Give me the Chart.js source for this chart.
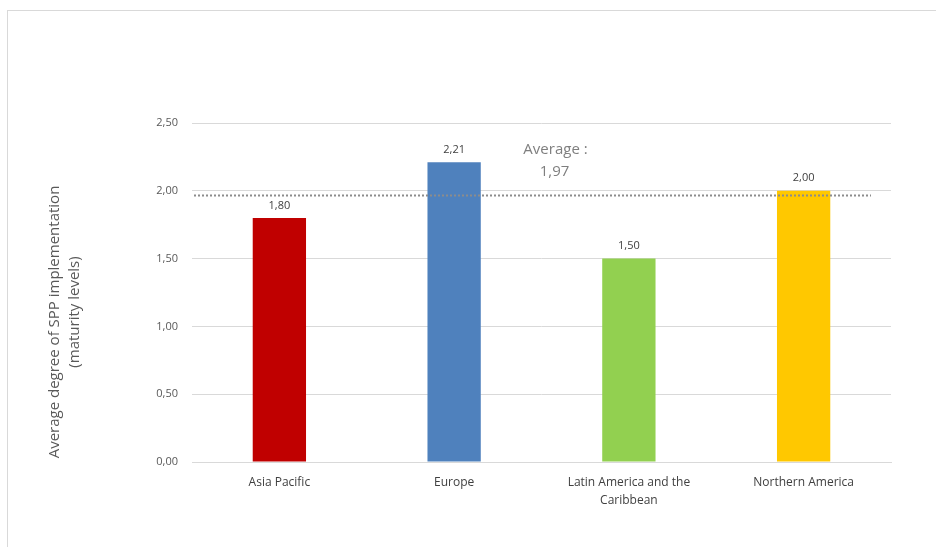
<!DOCTYPE html>
<html>
<head>
<meta charset="utf-8">
<script src="https://cdn.jsdelivr.net/npm/chart.js@4.4.1/dist/chart.umd.min.js"></script>
<style>
  html, body { margin: 0; padding: 0; background: #ffffff; }
  #wrap { width: 936px; height: 547px; position: relative; }
</style>
</head>
<body>
<div id="wrap"><canvas id="c" width="936" height="547"></canvas></div>
<script>
// Regional maturity of SPP implementation
const regions = [["Asia Pacific"], ["Europe"], ["Latin America and the", "Caribbean"], ["Northern America"]];
const maturity = [1.80, 2.21, 1.50, 2.00];
const barColors = ["#c00000", "#4f81bd", "#92d050", "#ffc800"];
const averageValue = 1.97;
const yTicks = [0, 0.5, 1.0, 1.5, 2.0, 2.5];
const yTitleLines = ["Average degree of SPP implementation", "(maturity levels)"];
const averageLines = ["Average :", "1,97"];

const FONT = "'Open Sans', 'Noto Sans', sans-serif";
const fmt = v => v.toFixed(2).replace(".", ",");

// Light frame around the chart panel
const framePlugin = {
  id: "frame",
  beforeDraw(chart) {
    const ctx = chart.ctx;
    ctx.save();
    ctx.fillStyle = "#ffffff";
    ctx.fillRect(0, 0, chart.width, chart.height);
    ctx.strokeStyle = "#d9d9d9";
    ctx.lineWidth = 1;
    ctx.strokeRect(7.5, 10.5, chart.width + 20, chart.height + 20);
    ctx.restore();
  }
};

// Dotted average line plus its caption
const averagePlugin = {
  id: "averageLine",
  afterDatasetsDraw(chart) {
    const { ctx, chartArea, scales } = chart;
    const y = Math.round(scales.y.getPixelForValue(averageValue)) + 0.5;
    ctx.save();
    ctx.strokeStyle = "#8c8c8c";
    ctx.lineWidth = 2;
    ctx.setLineDash([2, 2]);
    ctx.beginPath();
    ctx.moveTo(chartArea.left + 2, y);
    ctx.lineTo(chartArea.right - 20, y);
    ctx.stroke();
    ctx.setLineDash([]);
    ctx.fillStyle = "#7f7f7f";
    ctx.font = "15px " + FONT;
    ctx.textAlign = "center";
    ctx.textBaseline = "middle";
    const cx = (scales.x.getPixelForValue(1) + scales.x.getPixelForValue(2)) / 2 + 14;
    ctx.fillText(averageLines[0], cx, 150);
    ctx.fillText(averageLines[1], cx - 1, 172);
    ctx.restore();
  }
};

// Value labels above each bar
const valueLabelPlugin = {
  id: "valueLabels",
  afterDatasetsDraw(chart) {
    const ctx = chart.ctx;
    const meta = chart.getDatasetMeta(0);
    ctx.save();
    ctx.fillStyle = "#404040";
    ctx.font = "11px " + FONT;
    ctx.textAlign = "center";
    ctx.textBaseline = "bottom";
    meta.data.forEach((bar, i) => {
      ctx.fillText(fmt(maturity[i]), bar.x, bar.y - 7);
    });
    ctx.restore();
  }
};

// Rotated two-line axis title
const yTitlePlugin = {
  id: "yTitle",
  afterDraw(chart) {
    const ctx = chart.ctx;
    ctx.save();
    ctx.fillStyle = "#595959";
    ctx.font = "15px " + FONT;
    ctx.textAlign = "center";
    ctx.textBaseline = "middle";
    ctx.translate(55, 322);
    ctx.rotate(-Math.PI / 2);
    ctx.fillText(yTitleLines[0], 0, 0);
    ctx.fillText(yTitleLines[1], 10, 20);
    ctx.restore();
  }
};

new Chart(document.getElementById("c"), {
  type: "bar",
  data: {
    labels: regions,
    datasets: [{
      data: maturity,
      backgroundColor: barColors,
      borderWidth: 0,
      categoryPercentage: 1.0,
      barPercentage: 0.305
    }]
  },
  options: {
    responsive: false,
    animation: false,
    devicePixelRatio: 1,
    layout: { padding: { top: 123, right: 45, bottom: 0, left: 0 } },
    plugins: {
      legend: { display: false },
      tooltip: { enabled: false }
    },
    scales: {
      x: {
        grid: { display: false, drawTicks: false },
        border: { display: true, color: "#d9d9d9", width: 1 },
        ticks: {
          color: "#404040",
          font: { family: FONT, size: 12, lineHeight: 1.5 },
          padding: 12,
          maxRotation: 0,
          autoSkip: false
        },
        afterFit(scale) { scale.height = 85; }
      },
      y: {
        min: 0,
        max: 2.5,
        afterBuildTicks(scale) { scale.ticks = yTicks.map(v => ({ value: v })); },
        grid: { color: "#d9d9d9", lineWidth: 1, drawTicks: false },
        border: { display: false },
        ticks: {
          color: "#595959",
          font: { family: FONT, size: 11 },
          padding: 14,
          callback: v => fmt(v)
        },
        afterFit(scale) { scale.width = 192; }
      }
    }
  },
  plugins: [framePlugin, averagePlugin, valueLabelPlugin, yTitlePlugin]
});
</script>
</body>
</html>
